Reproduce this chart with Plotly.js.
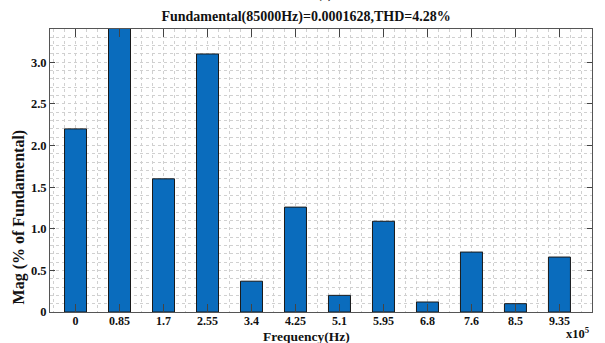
<!DOCTYPE html>
<html>
<head>
<meta charset="utf-8">
<script src="https://cdn.plot.ly/plotly-3.0.1.min.js"></script>
<style>html,body{margin:0;padding:0;background:#fff;}#chart{width:605px;height:343px;}</style>
</head>
<body>
<div id="chart"></div>
<script>
const categories = ["0","0.85","1.7","2.55","3.4","4.25","5.1","5.95","6.8","7.6","8.5","9.35"];
const magnitudes = [2.2, 3.6, 1.6, 3.1, 0.37, 1.26, 0.2, 1.09, 0.12, 0.72, 0.1, 0.66];
const yTickVals = [0, 0.5, 1.0, 1.5, 2.0, 2.5, 3.0];
const yTickText = ["0", "0.5", "1.0", "1.5", "2.0", "2.5", "3.0"];
const titleText = "Fundamental(85000Hz)=0.0001628,THD=4.28%";

const xIdx = categories.map((c, i) => i);
const serif = "Liberation Serif, Times New Roman, serif";
const gridC = "#d0d0d0";

const trace = {
  type: "bar",
  x: xIdx,
  y: magnitudes,
  width: 0.5,
  marker: {color: "#0a6cbd", line: {color: "#1a1a1a", width: 1}},
  hoverinfo: "none"
};

const layout = {
  width: 605, height: 343,
  margin: {l: 50, r: 13, t: 29, b: 31},
  paper_bgcolor: "#ffffff",
  plot_bgcolor: "#ffffff",
  showlegend: false,
  font: {family: serif, color: "#111", size: 12},
  title: {
    text: "<b>" + titleText + "</b>",
    font: {family: serif, size: 14, color: "#111"},
    x: 0.506, xref: "container", xanchor: "center",
    y: 0.953, yref: "container", yanchor: "middle"
  },
  xaxis: {
    range: [-0.58, 11.74],
    tickmode: "array",
    tickvals: xIdx,
    ticktext: categories.map(c => "<b>" + c + "</b>"),
    ticks: "inside", ticklen: 8, tickcolor: "#444", tickwidth: 1,
    ticklabelstandoff: -2,
    mirror: "ticks",
    showline: true, linecolor: "#555", linewidth: 1,
    showgrid: true, gridcolor: gridC, griddash: "dot", gridwidth: 1,
    zeroline: false,
    tickfont: {family: serif, size: 12, color: "#111"},
    minor: {tickmode: "linear", tick0: 0, dtick: 0.25, showgrid: true, gridcolor: gridC, griddash: "dot", gridwidth: 1, ticklen: 0}
  },
  yaxis: {
    range: [0, 3.4],
    tickmode: "array",
    tickvals: yTickVals,
    ticktext: yTickText.map(t => "<b>" + t + "</b>"),
    ticks: "inside", ticklen: 5, tickcolor: "#444", tickwidth: 1,
    mirror: "ticks",
    showline: true, linecolor: "#555", linewidth: 1,
    showgrid: true, gridcolor: gridC, griddash: "dot", gridwidth: 1,
    zeroline: false,
    tickfont: {family: serif, size: 12.5, color: "#111"},
    minor: {tickmode: "linear", tick0: 0, dtick: 0.1, showgrid: true, gridcolor: gridC, griddash: "dot", gridwidth: 1, ticklen: 0}
  },
  annotations: [
    {
      text: "<b>Mag (% of Fundamental)</b>",
      xref: "paper", yref: "paper",
      x: -0.058, y: 0.336, xanchor: "center", yanchor: "middle",
      textangle: -90, showarrow: false,
      font: {family: serif, size: 16, color: "#111"}
    },
    {
      text: "<b>Frequency(Hz)</b>",
      xref: "paper", yref: "paper",
      x: 0.474, y: -0.086, xanchor: "center", yanchor: "middle",
      showarrow: false, borderpad: 0,
      font: {family: serif, size: 13.5, color: "#111"}
    },
    {
      text: "<b>x10<sup>5</sup></b>",
      xref: "paper", yref: "paper",
      x: 0.975, y: -0.074, xanchor: "center", yanchor: "middle",
      showarrow: false,
      font: {family: serif, size: 12.5, color: "#111"}
    },
    {
      text: "<b>(c)</b>",
      xref: "paper", yref: "paper",
      x: 0.508, y: 1.09, xanchor: "center", yanchor: "bottom",
      showarrow: false,
      font: {family: serif, size: 14, color: "#111"}
    }
  ]
};

Plotly.newPlot("chart", [trace], layout, {displayModeBar: false, staticPlot: true});
</script>
</body>
</html>
